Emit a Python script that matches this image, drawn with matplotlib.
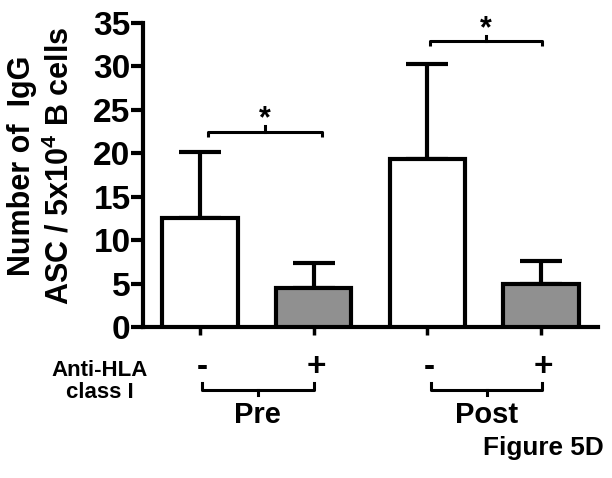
import matplotlib
matplotlib.use("Agg")
import matplotlib.pyplot as plt

plt.rcParams['font.family'] = ['Liberation Sans', 'DejaVu Sans']
plt.rcParams['mathtext.default'] = 'regular'

groups = ["Pre", "Post"]
treatment = ["-", "+", "-", "+"]
means = [12.5, 4.5, 19.3, 5.0]
errors = [7.6, 2.9, 11.0, 2.6]
fills = ["white", "#909090", "white", "#909090"]
yticks = [0, 5, 10, 15, 20, 25, 30, 35]
sig_pairs = [(0, 1, 22.5), (2, 3, 32.9)]

fig = plt.figure(figsize=(6.12, 4.78), dpi=100)
ax = fig.add_axes([0.2337, 0.316, 0.977 - 0.2337, 0.952 - 0.316])
x = list(range(len(means)))
lw = 3.0
ax.bar(x, means, width=0.665, color=fills, edgecolor="black", linewidth=lw, zorder=3)
ax.errorbar(x, means, yerr=[[0] * len(errors), errors], fmt="none", ecolor="black",
            elinewidth=lw, capsize=15, capthick=lw, zorder=2)

ax.set_xlim(-0.5, 3.5)
ax.set_ylim(0, 35)
ax.set_yticks(yticks)
ax.set_yticklabels([str(t) for t in yticks], fontsize=24, fontweight="bold")
ax.set_xticks(x)
ax.set_xticklabels([])
ax.tick_params(axis="y", length=9, width=lw, pad=0)
ax.tick_params(axis="x", length=6, width=2.5, color="black")
for s in ["top", "right"]:
    ax.spines[s].set_visible(False)
for s in ["left", "bottom"]:
    ax.spines[s].set_linewidth(lw)

fig.text(0.068, 0.653, "Number of  IgG\nASC / 5x10$^4$ B cells", rotation=90,
         ha="center", va="center", fontsize=22, fontweight="bold", linespacing=1.3,
         multialignment="center")

# significance brackets
offsets = [(0.07, 0.07), (0.02, 0.01)]
for (a, b, h), (oa, ob) in zip(sig_pairs, offsets):
    xa, xb = a + oa, b + ob
    ax.plot([xa, xa, xb, xb], [h - 0.6, h, h, h - 0.6], color="black", lw=2.2,
            clip_on=False, solid_capstyle="butt")
    xm = (xa + xb) / 2
    ax.plot([xm, xm], [h, h + 0.6], color="black", lw=2.2, clip_on=False)
    ax.text(xm, h - 0.3, "*", ha="center", va="bottom", fontsize=22, fontweight="bold")

# treatment labels below axis
trans = ax.get_xaxis_transform()
for xi, t in zip(x, treatment):
    ax.text(xi + 0.02, -0.135, t, transform=trans, ha="center", va="center",
            fontsize=24, fontweight="bold")
fig.text(0.163, 0.202, "Anti-HLA\nclass I", ha="center", va="center", fontsize=16,
         fontweight="bold", linespacing=1.05)

# group brackets
grp_off = [(0.02, 0.0), (0.035, 0.01)]
for gi, (g, (oa, ob)) in enumerate(zip(groups, grp_off)):
    xa, xb = 2 * gi + oa, 2 * gi + 1 + ob
    ax.plot([xa, xa, xb, xb], [-0.184, -0.207, -0.207, -0.184], transform=trans,
            color="black", lw=2.2, clip_on=False)
    xm = (xa + xb) / 2
    ax.plot([xm, xm], [-0.207, -0.224], transform=trans, color="black", lw=2.2, clip_on=False)
    ax.text(xm, -0.288, g, transform=trans, ha="center", va="center",
            fontsize=21, fontweight="bold")

fig.text(0.986, 0.062, "Figure 5D", ha="right", va="center", fontsize=18.8,
         fontweight="bold")

fig.savefig("out.png", dpi=100)
